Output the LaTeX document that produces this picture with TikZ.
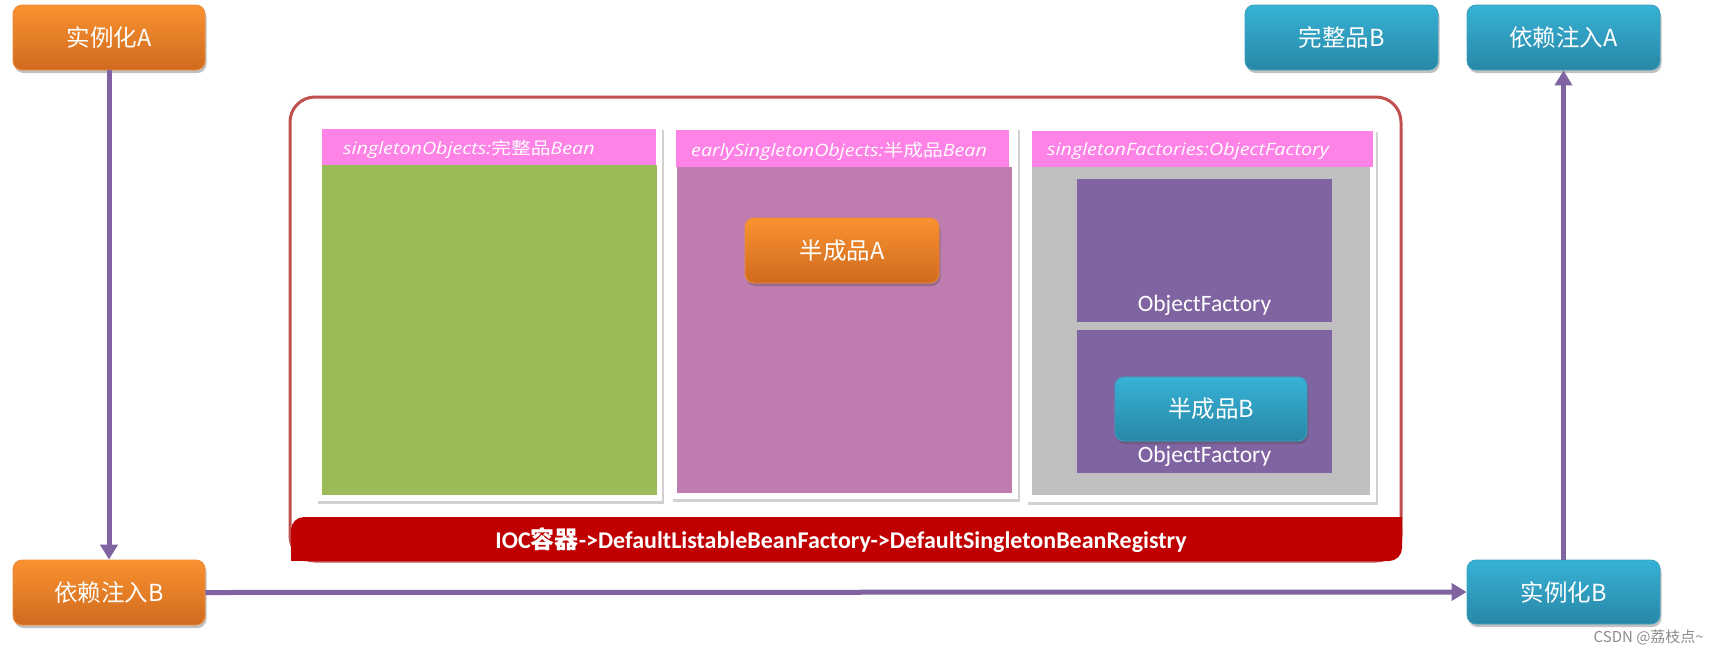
\documentclass[tikz,border=0pt]{standalone}
\usepackage{fontspec}
\setmainfont{Carlito}
\newfontfamily\cjk{Noto Sans CJK SC}
\newfontfamily\calf{Carlito}
\newfontfamily\hand{Open Sans}
\usetikzlibrary{arrows.meta,shadows}
\definecolor{orgtop}{HTML}{F99230}
\definecolor{orgbot}{HTML}{D06A1E}
\definecolor{orgedge}{HTML}{EE8C3C}
\definecolor{blutop}{HTML}{37B2D6}
\definecolor{blubot}{HTML}{2887A6}
\definecolor{bluedge}{HTML}{3CA0BE}
\definecolor{arrowpurple}{HTML}{8064A2}
\definecolor{ofpurple}{HTML}{8064A2}
\definecolor{frame}{HTML}{C0504D}
\definecolor{barred}{HTML}{C00000}
\definecolor{pinkhead}{HTML}{FF82E6}
\definecolor{greenbody}{HTML}{9BBB59}
\definecolor{mauvebody}{HTML}{BE7DAE}
\definecolor{graybody}{HTML}{BFBFBF}
\newcommand{\hdr}[1]{\scalebox{1.16}[1]{#1}}
\tikzset{
  softshadow/.style={drop shadow={shadow xshift=1.5pt,shadow yshift=-3pt,opacity=0.35,fill=black!70}},
  orgbox/.style={rounded corners=9pt,top color=orgtop,bottom color=orgbot,draw=orgedge,line width=0.8pt,
    text=white,font=\cjk\fontsize{23.5}{27}\selectfont,softshadow},
  blubox/.style={rounded corners=9pt,top color=blutop,bottom color=blubot,draw=bluedge,line width=0.8pt,
    text=white,font=\cjk\fontsize{23.5}{27}\selectfont,softshadow},
  flow/.style={draw=arrowpurple,line width=5pt,-{Triangle[width=17pt,length=15pt]}},
  panel/.style={fill=white,drop shadow={shadow xshift=2pt,shadow yshift=-2.5pt,opacity=0.3,fill=black!60}},
  headtxt/.style={anchor=west,text=white,inner sep=0pt,font=\fontsize{17}{20}\selectfont},
  oftxt/.style={text=white,inner sep=0pt,font=\calf\fontsize{23.5}{27}\selectfont},
}
\begin{document}
\begin{tikzpicture}[x=1pt,y=-1pt]
\useasboundingbox (0,0) rectangle (1719,654);

% container
\draw[frame,line width=3pt,rounded corners=25pt] (290,97) rectangle (1401,561);

% panels
\path[panel] (316,127) rectangle (662,501);
\fill[greenbody] (322,165) rectangle (657,495);
\fill[pinkhead] (322,129) rectangle (656,165);
\node[headtxt] (h1) at (343,149.5) {\hdr{{\hand\itshape singletonObjects:}{\cjk 完整品}{\hand\itshape Bean}}};

\path[panel] (671,127) rectangle (1018,499);
\fill[mauvebody] (677,167) rectangle (1012,493);
\fill[pinkhead] (676,130) rectangle (1009,167);
\node[headtxt] (h2) at (691,151) {\hdr{{\hand\itshape earlySingletonObjects:}{\cjk 半成品}{\hand\itshape Bean}}};

\path[panel] (1026,129) rectangle (1376,502);
\fill[graybody] (1032,167) rectangle (1370,495);
\fill[pinkhead] (1032,131) rectangle (1373,167);
\node[headtxt] (h3) at (1047,151.5) {\hdr{{\hand\itshape singletonFactories:ObjectFactory}}};

\fill[ofpurple] (1077,179) rectangle (1332,322);
\fill[ofpurple] (1077,330) rectangle (1332,473);
\node[oftxt] (of1) at (1204.5,305) {ObjectFactory};
\node[oftxt] (of2) at (1204.5,456) {ObjectFactory};

% red bar
\fill[barred,rounded corners=13pt] (291,517) rectangle (1402,561);
\fill[barred] (1380,517) rectangle (1402,535);
\fill[barred] (291,540) rectangle (313,561);
\node[text=white,inner sep=0pt,font=\fontsize{24}{28}\selectfont\bfseries] (ioc) at (841,540)
  {{\calf\bfseries IOC}{\cjk\bfseries 容器}{\calf\bfseries ->DefaultListableBeanFactory->DefaultSingletonBeanRegistry}};

% inner boxes
\node[orgbox,minimum width=194pt,minimum height=65pt] (halfA) at (842,250.5) {半成品A};
\node[blubox,minimum width=192pt,minimum height=64pt] (halfB) at (1211,409) {半成品B};

% outer boxes
\node[orgbox,minimum width=192pt,minimum height=65pt] (instA) at (109,37.5) {实例化A};
\node[orgbox,minimum width=192pt,minimum height=65pt] (depB) at (109,592.5) {依赖注入B};
\node[blubox,minimum width=193pt,minimum height=64pt] (instB) at (1563.5,592) {实例化B};
\node[blubox,minimum width=193pt,minimum height=65pt] (fullB) at (1341.5,37.5) {完整品B};
\node[blubox,minimum width=193pt,minimum height=65pt] (depA) at (1563.5,37.5) {依赖注入A};

% connectors
\draw[flow] (instA.south) -- (depB.north);
\draw[flow] (depB.east) -- (instB.west);
\draw[flow] (instB.north) -- (depA.south);

% watermark
\node[text=black!45,inner sep=0pt,font=\cjk\fontsize{15}{17}\selectfont,anchor=east] (wm) at (1704,637) {CSDN @荔枝点\textasciitilde};
\end{tikzpicture}
\end{document}
